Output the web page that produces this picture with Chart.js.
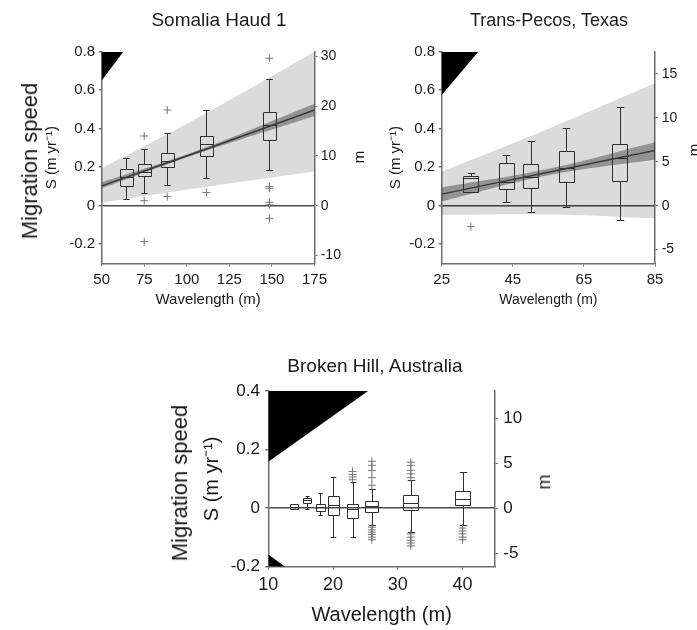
<!DOCTYPE html>
<html>
<head>
<meta charset="utf-8">
<script src="https://cdn.jsdelivr.net/npm/chart.js@4.4.1/dist/chart.umd.min.js"></script>
<style>
    body { margin: 0; background: #fff; }
    #wrap { position: relative; width: 697px; height: 630px; overflow: hidden; font-family: "Liberation Sans", Arial, sans-serif; color: #1a1a1a; }
    canvas { position: absolute; }
    .lbl { position: absolute; white-space: nowrap; line-height: 1; transform: translate(-50%, -50%); }
    .rot { transform: translate(-50%, -50%) rotate(-90deg); }
</style>
</head>
<body>
<div id="wrap">
    <canvas id="somalia" width="348" height="320" style="left:0;top:0;width:348px;height:320px"></canvas>
    <canvas id="pecos" width="349" height="320" style="left:348px;top:0;width:349px;height:320px"></canvas>
    <canvas id="broken" width="410" height="310" style="left:150px;top:320px;width:410px;height:310px"></canvas>

    <div class="lbl" style="left:219px;top:19px;font-size:19px">Somalia Haud 1</div>
    <div class="lbl rot" style="left:30px;top:161px;font-size:22px">Migration speed</div>
    <div class="lbl rot" style="left:358px;top:157px;font-size:15px">m</div>

    <div class="lbl" style="left:549px;top:20px;font-size:18px">Trans-Pecos, Texas</div>
    <div class="lbl rot" style="left:693px;top:150px;font-size:15px">m</div>

    <div class="lbl" style="left:375px;top:365px;font-size:19px">Broken Hill, Australia</div>
    <div class="lbl rot" style="left:180px;top:483px;font-size:22px">Migration speed</div>
    <div class="lbl rot" style="left:544px;top:482px;font-size:18px">m</div>
</div>

<script>
'use strict';

// ---- Somalia Haud 1 ----
const somaliaWave = [64.5, 75, 88.5, 111.5, 148.5];
const somaliaLow = [0.033, 0.068, 0.108, 0.142, 0.185];
const somaliaQ1 = [0.102, 0.154, 0.200, 0.260, 0.341];
const somaliaMedian = [0.151, 0.177, 0.234, 0.319, 0.419];
const somaliaQ3 = [0.189, 0.217, 0.275, 0.364, 0.488];
const somaliaHigh = [0.249, 0.293, 0.376, 0.497, 0.657];
const somaliaOutX = [75, 75, 75, 88.5, 88.5, 111.5, 148.5, 148.5, 148.5, 148.5, 148.5, 148.5];
const somaliaOutY = [0.362, 0.026, -0.187, 0.497, 0.047, 0.068, 0.766, 0.099, 0.090, 0.018, 0.004, -0.066];
const somaliaFitX = [50, 105, 175];
const somaliaFit = [0.103, 0.274, 0.497];
const somaliaCiLo = [0.090, 0.266, 0.466];
const somaliaCiHi = [0.122, 0.283, 0.530];
const somaliaPiLo = [0.015, 0.090, 0.178];
const somaliaPiHi = [0.194, 0.450, 0.800];
const somaliaWedgeX = [50, 62.7];
const somaliaWedgeY = [0.65, 0.8];
const somaliaXTicks = [50, 75, 100, 125, 150, 175];
const somaliaSTicks = [-0.2, 0, 0.2, 0.4, 0.6, 0.8];
const somaliaMTicks = [-10, 0, 10, 20, 30];
const somaliaMPerS = 38.7;

// ---- Trans-Pecos, Texas ----
const pecosWave = [33.2, 43.1, 50.1, 60.0, 75.1];
const pecosLow = [0.073, 0.018, -0.031, -0.005, -0.074];
const pecosQ1 = [0.073, 0.085, 0.092, 0.125, 0.130];
const pecosMedian = [0.145, 0.125, 0.151, 0.194, 0.246];
const pecosQ3 = [0.154, 0.223, 0.218, 0.284, 0.319];
const pecosHigh = [0.168, 0.263, 0.338, 0.405, 0.511];
const pecosOutX = [33.2];
const pecosOutY = [-0.109];
const pecosFitX = [25, 55, 85];
const pecosFit = [0.060, 0.174, 0.287];
const pecosCiLo = [0.022, 0.158, 0.240];
const pecosCiHi = [0.095, 0.192, 0.330];
const pecosPiLo = [-0.048, -0.046, -0.066];
const pecosPiHi = [0.177, 0.400, 0.636];
const pecosWedgeX = [25, 35.3];
const pecosWedgeY = [0.575, 0.8];
const pecosXTicks = [25, 45, 65, 85];
const pecosSTicks = [-0.2, 0, 0.2, 0.4, 0.6, 0.8];
const pecosMTicks = [-5, 0, 5, 10, 15];
const pecosMPerS = 21.9;

// ---- Broken Hill, Australia ----
const brokenWave = [14, 16, 18, 20, 23, 26, 32, 40];
const brokenLow = [-0.004, -0.004, -0.023, -0.099, -0.099, -0.059, -0.082, -0.059];
const brokenQ1 = [-0.004, 0.019, -0.010, -0.025, -0.033, -0.014, -0.005, 0.009];
const brokenMedian = [0.005, 0.029, 0.003, 0.009, -0.002, 0.006, 0.018, 0.030];
const brokenQ3 = [0.013, 0.034, 0.013, 0.041, 0.015, 0.023, 0.046, 0.058];
const brokenHigh = [0.013, 0.043, 0.051, 0.106, 0.088, 0.066, 0.095, 0.125];
const brokenOutX = [23, 23, 23, 23,
    26, 26, 26, 26, 26, 26, 26, 26, 26, 26, 26,
    32, 32, 32, 32, 32, 32, 32, 32, 32, 32,
    40, 40, 40, 40, 40];
const brokenOutY = [0.125, 0.115, 0.106, 0.097,
    0.160, 0.146, 0.129, 0.104, 0.078, -0.065, -0.074, -0.082, -0.090, -0.099, -0.108,
    0.157, 0.146, 0.129, 0.117, 0.104, -0.088, -0.099, -0.110, -0.119, -0.129,
    -0.068, -0.078, -0.088, -0.099, -0.108];
const brokenWedgeX = [10, 25.4];
const brokenWedgeY = [0.158, 0.4];
const brokenFootX = [10, 12.6];
const brokenFootY = [-0.158, -0.2];
const brokenXTicks = [10, 20, 30, 40];
const brokenSTicks = [-0.2, 0, 0.2, 0.4];
const brokenMTicks = [-5, 0, 5, 10];
const brokenMPerS = 32.5;

const textCol = '#1a1a1a',
    axisCol = '#6e6e6e',
    zeroCol = '#4a4a4a',
    boxCol = '#2e2e2e',
    outCol = '#777777';

Chart.defaults.font.family = '"Liberation Sans", Arial, sans-serif';
Chart.defaults.color = textCol;

function pts(xs, ys) {
    return xs.map((x, i) => ({x: x, y: ys[i]}));
}

function boxPlugin(stats, widths, afterIndex) {
    return {
        id: 'boxes',
        afterDatasetDraw(chart, args) {
            if (args.index !== afterIndex) return;
            const ctx = chart.ctx,
                x = chart.scales.x,
                y = chart.scales.y;
            const px = v => Math.round(x.getPixelForValue(v)) + 0.5;
            const py = v => Math.round(y.getPixelForValue(v)) + 0.5;
            ctx.save();
            ctx.strokeStyle = boxCol;
            ctx.lineWidth = 1;
            stats.wave.forEach((w, i) => {
                const l = px(w - widths[i] / 2),
                    r = px(w + widths[i] / 2),
                    c = px(w),
                    cap = (r - l) * 0.25;
                const hi = py(stats.high[i]), q3 = py(stats.q3[i]), med = py(stats.median[i]),
                    q1 = py(stats.q1[i]), lo = py(stats.low[i]);
                ctx.beginPath();
                ctx.moveTo(c, q3); ctx.lineTo(c, hi);
                ctx.moveTo(c - cap, hi); ctx.lineTo(c + cap, hi);
                ctx.moveTo(c, q1); ctx.lineTo(c, lo);
                ctx.moveTo(c - cap, lo); ctx.lineTo(c + cap, lo);
                ctx.rect(l, q3, r - l, q1 - q3);
                ctx.moveTo(l, med); ctx.lineTo(r, med);
                ctx.stroke();
            });
            ctx.restore();
        }
    };
}

function lineSet(data, extra) {
    return Object.assign({
        type: 'line',
        data: data,
        pointRadius: 0,
        borderWidth: 0,
        borderColor: 'transparent',
        fill: false,
        tension: 0.4
    }, extra);
}

function buildPanel(id, p) {
    const datasets = [{
        type: 'scatter',
        data: pts(p.outX, p.outY),
        pointStyle: 'cross',
        pointRadius: 4,
        borderColor: outCol,
        borderWidth: 1
    }];
    if (p.fitX) {
        datasets.push(
            lineSet(pts(p.fitX, p.fit), {borderColor: '#3a3a3a', borderWidth: 1.5}),
            lineSet(pts(p.fitX, p.ciHi), {fill: '+1', backgroundColor: 'rgba(0,0,0,0.33)'}),
            lineSet(pts(p.fitX, p.ciLo)),
            lineSet(pts(p.fitX, p.piHi), {fill: '+1', backgroundColor: 'rgba(0,0,0,0.14)'}),
            lineSet(pts(p.fitX, p.piLo))
        );
    }
    p.wedges.forEach(wd => {
        datasets.push(lineSet(pts(wd.x, wd.y), {fill: {value: wd.edge}, backgroundColor: '#000', tension: 0}));
    });
    const afterIndex = p.fitX ? 2 : datasets.length - 1;

    const lay = p.layout;
    const tickSet = list => axis => {
        axis.ticks = list.map(v => ({value: v}));
    };

    new Chart(document.getElementById(id), {
        type: 'line',
        data: {datasets: datasets},
        options: {
            responsive: false,
            animation: false,
            events: [],
            layout: {padding: lay.padding},
            plugins: {
                legend: {display: false},
                tooltip: {enabled: false}
            },
            scales: {
                x: {
                    type: 'linear',
                    min: p.xMin,
                    max: p.xMax,
                    afterBuildTicks: tickSet(p.xTicks),
                    afterFit: axis => { axis.height = lay.xH; },
                    grid: {drawOnChartArea: false, tickLength: 3, tickColor: axisCol},
                    border: {color: axisCol, width: 1.5},
                    ticks: {padding: lay.xPad, font: {size: lay.xFont}, color: textCol, callback: v => String(v)},
                    title: {display: true, text: 'Wavelength (m)', font: {size: lay.xTitle}, color: textCol, padding: 0}
                },
                y: {
                    type: 'linear',
                    position: 'left',
                    min: p.sMin,
                    max: p.sMax,
                    afterBuildTicks: tickSet(p.sTicks),
                    afterFit: axis => { axis.width = lay.yW; },
                    grid: {
                        color: ctx => ctx.tick && ctx.tick.value === 0 ? zeroCol : 'rgba(0,0,0,0)',
                        lineWidth: 1.5,
                        tickLength: 3,
                        tickColor: axisCol
                    },
                    border: {color: axisCol, width: 1.5},
                    ticks: {padding: lay.yPad, font: {size: lay.yFont}, color: textCol, callback: v => String(v)},
                    title: {display: true, text: 'S (m yr⁻¹)', font: {size: lay.yTitle}, color: textCol, padding: 0}
                },
                y2: {
                    type: 'linear',
                    position: 'right',
                    min: p.sMin * p.mPerS,
                    max: p.sMax * p.mPerS,
                    afterBuildTicks: tickSet(p.mTicks),
                    afterFit: axis => { axis.width = lay.y2W; },
                    grid: {drawOnChartArea: false, tickLength: 3, tickColor: axisCol},
                    border: {color: axisCol, width: 1.5},
                    ticks: {padding: lay.y2Pad, font: {size: lay.y2Font}, color: textCol, callback: v => String(v)}
                }
            }
        },
        plugins: [boxPlugin(p.stats, p.boxW, afterIndex)]
    });
}

buildPanel('somalia', {
    stats: {wave: somaliaWave, low: somaliaLow, q1: somaliaQ1, median: somaliaMedian, q3: somaliaQ3, high: somaliaHigh},
    boxW: somaliaWave.map(() => 7.6),
    outX: somaliaOutX, outY: somaliaOutY,
    fitX: somaliaFitX, fit: somaliaFit, ciLo: somaliaCiLo, ciHi: somaliaCiHi, piLo: somaliaPiLo, piHi: somaliaPiHi,
    wedges: [{x: somaliaWedgeX, y: somaliaWedgeY, edge: 0.8}],
    xMin: 50, xMax: 175, sMin: -0.3, sMax: 0.8,
    xTicks: somaliaXTicks, sTicks: somaliaSTicks, mTicks: somaliaMTicks, mPerS: somaliaMPerS,
    layout: {
        padding: {left: 43, top: 51.7, right: 0, bottom: 11},
        xH: 45.6, yW: 58.7, y2W: 33.5,
        xPad: 4.6, yPad: 3.7, y2Pad: 3.2,
        xFont: 15, yFont: 15, y2Font: 14, xTitle: 15, yTitle: 15
    }
});

buildPanel('pecos', {
    stats: {wave: pecosWave, low: pecosLow, q1: pecosQ1, median: pecosMedian, q3: pecosQ3, high: pecosHigh},
    boxW: pecosWave.map(() => 4.2),
    outX: pecosOutX, outY: pecosOutY,
    fitX: pecosFitX, fit: pecosFit, ciLo: pecosCiLo, ciHi: pecosCiHi, piLo: pecosPiLo, piHi: pecosPiHi,
    wedges: [{x: pecosWedgeX, y: pecosWedgeY, edge: 0.8}],
    xMin: 25, xMax: 85, sMin: -0.3, sMax: 0.8,
    xTicks: pecosXTicks, sTicks: pecosSTicks, mTicks: pecosMTicks, mPerS: pecosMPerS,
    layout: {
        padding: {left: 39, top: 51.7, right: 0, bottom: 11.6},
        xH: 45, yW: 54.7, y2W: 42,
        xPad: 4.6, yPad: 3.7, y2Pad: 3.7,
        xFont: 15, yFont: 15, y2Font: 14, xTitle: 14, yTitle: 15
    }
});

buildPanel('broken', {
    stats: {wave: brokenWave, low: brokenLow, q1: brokenQ1, median: brokenMedian, q3: brokenQ3, high: brokenHigh},
    boxW: [1.2, 1.3, 1.4, 1.7, 1.8, 2.0, 2.3, 2.3],
    outX: brokenOutX, outY: brokenOutY,
    wedges: [
        {x: brokenWedgeX, y: brokenWedgeY, edge: 0.4},
        {x: brokenFootX, y: brokenFootY, edge: -0.2}
    ],
    xMin: 10, xMax: 45, sMin: -0.2, sMax: 0.4,
    xTicks: brokenXTicks, sTicks: brokenSTicks, mTicks: brokenMTicks, mPerS: brokenMPerS,
    layout: {
        padding: {left: 50.5, top: 71, right: 0, bottom: 3},
        xH: 60.3, yW: 67.8, y2W: 65,
        xPad: 4.5, yPad: 5.3, y2Pad: 5.3,
        xFont: 18, yFont: 17, y2Font: 17, xTitle: 20, yTitle: 20
    }
});
</script>
</body>
</html>
